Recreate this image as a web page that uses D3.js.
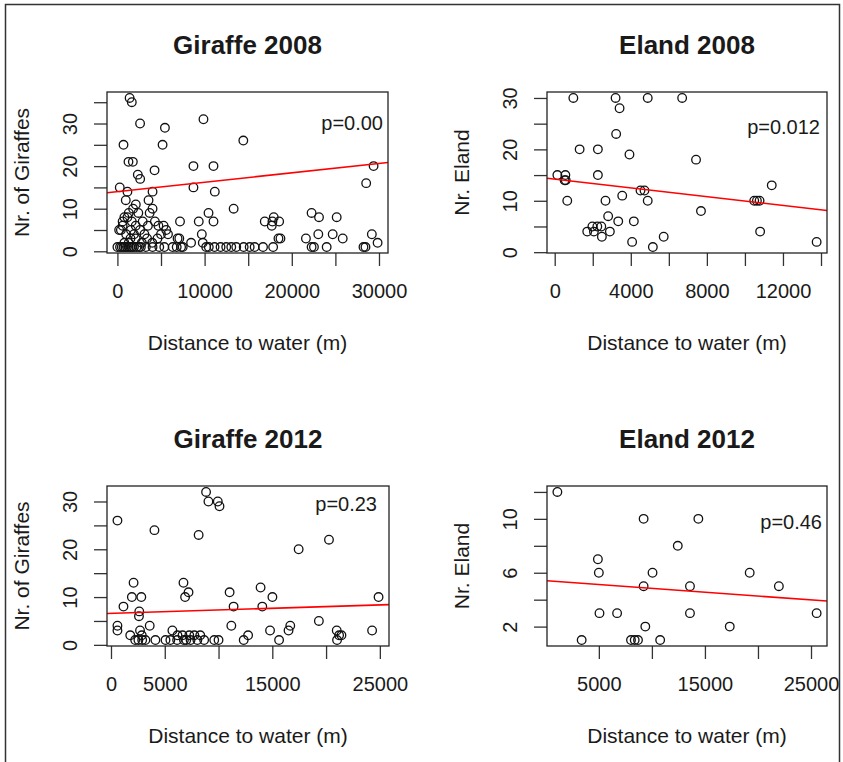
<!DOCTYPE html>
<html lang="en">
<head>
  <meta charset="utf-8">
  <title>distance to water</title>
  <script src="https://cdnjs.cloudflare.com/ajax/libs/d3/7.8.5/d3.min.js"></script>
  <style>
    body { margin: 0; background: #fff; }
    text { font-family: "Liberation Sans", Arial, sans-serif; fill: #1a1a1a; }
  </style>
</head>
<body>
<script>
// panel texts
var titles = ["Giraffe 2008", "Eland 2008", "Giraffe 2012", "Eland 2012"];
var yLabels = ["Nr. of Giraffes", "Nr. Eland", "Nr. of Giraffes", "Nr. Eland"];
var xLabel = "Distance to water (m)";
var pLabels = ["p=0.00", "p=0.012", "p=0.23", "p=0.46"];

// observations: [distance to water (m), count]
var giraffe2008 = [
  [1400,36],[1650,35],[2600,30],[5450,29],[9870,31],[700,25],[5180,25],[14440,26],
  [1270,21],[1770,21],[4260,19],[2340,18],[2610,17],[8720,20],[11020,20],[270,15],
  [8720,15],[29380,20],[28530,16],[1150,14],[4030,14],[11170,14],[960,12],[2110,11],
  [3570,12],[4030,10],[13330,10],[10450,9],[11020,7],[7180,7],[9330,7],[9680,4],
  [22270,9],[23120,8],[25150,8],[16900,7],[17930,8],[17780,7],[18550,7],[17700,6],
  [18470,3],[18700,3],[21620,3],[23040,4],[24690,4],[25840,3],[29180,4],[29840,2],
  [22270,1],[22540,1],[24000,1],[28220,1],[28450,1],[14480,1],[15170,1],[15740,1],
  [16700,1],[17860,1],[11140,1],[11830,1],[12480,1],[13060,1],[13630,1],[8450,2],
  [9790,2],[10180,1],[10480,1],[7100,3],[6900,3],[6340,1],[6800,1],[7300,1],[7490,1],
  [5380,1],[4800,1],[4030,1],[3260,1],[2690,1],
  [0,1],[300,1],[500,1],[700,1],[900,1],[1100,1],[1300,1],[1500,1],[1700,1],[1900,1],
  [2200,1],[2500,1],[400,5],[200,5],[600,7],[800,8],[1150,8],[1650,7],[1550,5],[2100,6],
  [2900,7],[3500,6],[4300,7],[4700,6],[5300,6],[5600,5],[5800,4],[3100,4],[2600,5],
  [2100,3],[1300,2],[800,2],[1500,3],[1900,4],[3400,3],[4000,2],[4600,3],[5000,4],
  [2800,2],[1000,4],[2400,9],[1800,10],[3700,9],[600,6],[1300,9]
];
var eland2008 = [
  [980,30],[3200,30],[4890,30],[6700,30],[3410,28],[3230,23],[1310,20],[2270,20],
  [3930,19],[7430,18],[140,15],[560,15],[520,14],[580,14],[660,10],[2270,15],
  [2670,10],[2810,7],[3340,6],[3550,11],[4510,12],[4720,12],[4890,10],[4160,6],
  [4070,2],[5160,1],[5730,3],[7690,8],[10490,10],[10630,10],[10770,10],[11410,13],
  [10800,4],[13770,2],[1710,4],[1980,5],[2240,5],[2450,5],[2480,3],[2900,4],[2060,4]
];
var giraffe2012 = [
  [8840,32],[9060,30],[9930,30],[10090,29],[600,26],[4040,24],[8150,23],[17450,20],
  [20270,22],[2100,13],[6740,13],[1940,10],[2820,10],[6890,10],[7210,11],[2630,7],
  [2600,6],[1160,8],[11030,11],[11400,8],[13910,12],[14070,8],[15010,10],[24880,10],
  [19330,5],[600,4],[600,3],[3600,4],[11190,4],[16670,4],[16510,3],[14790,3],
  [20990,3],[21210,2],[21430,2],[21020,1],[24280,3],[12750,2],[12340,1],[15630,1],
  [1790,2],[2250,1],[2700,3],[2860,2],[2550,1],[3200,1],[4130,1],[5070,1],[5710,3],
  [6180,2],[6650,2],[7280,2],[7750,2],[5520,1],[6150,1],[6780,1],[7400,1],[8030,1],
  [8660,1],[9600,1],[10000,1],[7000,1],[8300,2],[2900,1]
];
var eland2012 = [
  [1090,12],[9220,10],[14380,10],[12440,8],[4910,7],[5000,6],[10060,6],[19220,6],
  [9220,5],[13590,5],[21970,5],[5060,3],[6720,3],[13590,3],[25530,3],[9380,2],
  [17340,2],[3380,1],[8030,1],[8380,1],[8690,1],[10780,1]
];
var series = [giraffe2008, eland2008, giraffe2012, eland2012];

// fitted lines
var fitIntercept = [14.0, 14.2, 6.6, 5.41];
var fitSlope = [0.000221, -0.000426, 0.0000704, -0.0000571];

// tick positions, and the ticks that keep a label
var xTicks = [
  [0,5000,10000,15000,20000,25000,30000],
  [0,2000,4000,6000,8000,10000,12000,14000],
  [0,5000,10000,15000,20000,25000],
  [5000,10000,15000,20000,25000]
];
var xTickLabels = [
  [0,10000,20000,30000],
  [0,4000,8000,12000],
  [0,5000,15000,25000],
  [5000,15000,25000]
];
var yTicks = [
  [0,5,10,15,20,25,30,35],
  [0,5,10,15,20,25,30],
  [0,5,10,15,20,25,30],
  [2,4,6,8,10,12]
];
var yTickLabels = [
  [0,10,20,30],
  [0,10,20,30],
  [0,10,20,30],
  [2,6,10]
];

//plot boxes
var boxes = [
  {x: 107, y: 92, w: 281, h: 161},
  {x: 547, y: 92, w: 280, h: 161},
  {x: 107, y: 486, w: 282, h: 160},
  {x: 547, y: 486, w: 280, h: 160}
];
//p label offset from the top right corner of the box
var pOffset = [[5, 38], [7, 42], [12, 24.5], [5, 43]];

var svg = d3.select("body")
            .append("svg")
            .attr("width", 843)
            .attr("height", 762);

svg.append("rect")
   .attr("width", 843)
   .attr("height", 762)
   .attr("fill", "#fff");

//outer frame
svg.append("path")
   .attr("d", "M5.5,770V4.5H839.5V770")
   .attr("fill", "none")
   .attr("stroke", "#333")
   .attr("stroke-width", 1.5);

//R style range: data extent plus 4% on each side
function padded(ext) {
  var r = ext[1] - ext[0];
  return [ext[0] - 0.04 * r, ext[1] + 0.04 * r];
}

series.forEach(function(data, i) {
  var b = boxes[i];
  var g = svg.append("g").attr("transform", "translate(" + b.x + "," + b.y + ")");

  var x = d3.scaleLinear()
            .domain(padded(d3.extent(data, function(d) { return d[0]; })))
            .range([0, b.w]);
  var y = d3.scaleLinear()
            .domain(padded(d3.extent(data, function(d) { return d[1]; })))
            .range([b.h, 0]);

  g.append("clipPath")
   .attr("id", "clip" + i)
   .append("rect")
   .attr("width", b.w)
   .attr("height", b.h);

  //x axis
  var xa = g.append("g")
            .attr("transform", "translate(0," + b.h + ")")
            .call(d3.axisBottom(x)
                    .tickValues(xTicks[i])
                    .tickSize(13)
                    .tickSizeOuter(0)
                    .tickPadding(18)
                    .tickFormat(function(v) { return xTickLabels[i].indexOf(v) >= 0 ? v : ""; }));
  xa.select(".domain").remove();
  xa.selectAll("line").attr("stroke", "#333").attr("stroke-width", 1.3);
  xa.selectAll("text")
    .attr("font-size", 20)
    .attr("font-family", "Liberation Sans, Arial, sans-serif")
    .attr("fill", "#1a1a1a");

  //y axis, labels turned to run along the axis
  var ya = g.append("g")
            .call(d3.axisLeft(y)
                    .tickValues(yTicks[i])
                    .tickSize(13)
                    .tickSizeOuter(0)
                    .tickFormat(function(v) { return yTickLabels[i].indexOf(v) >= 0 ? v : ""; }));
  ya.select(".domain").remove();
  ya.selectAll("line").attr("stroke", "#333").attr("stroke-width", 1.3);
  ya.selectAll("text")
    .attr("x", null)
    .attr("dy", null)
    .attr("text-anchor", "middle")
    .attr("transform", "translate(-30,0) rotate(-90)")
    .attr("font-size", 20)
    .attr("font-family", "Liberation Sans, Arial, sans-serif")
    .attr("fill", "#1a1a1a");

  //points
  g.selectAll("circle")
   .data(data)
   .enter()
   .append("circle")
   .attr("cx", function(d) { return x(d[0]); })
   .attr("cy", function(d) { return y(d[1]); })
   .attr("r", 4.3)
   .attr("fill", "none")
   .attr("stroke", "#111")
   .attr("stroke-width", 1.3);

  //fitted line across the whole box
  var xd = x.domain();
  g.append("line")
   .attr("clip-path", "url(#clip" + i + ")")
   .attr("x1", x(xd[0]))
   .attr("x2", x(xd[1]))
   .attr("y1", y(fitIntercept[i] + fitSlope[i] * xd[0]))
   .attr("y2", y(fitIntercept[i] + fitSlope[i] * xd[1]))
   .attr("stroke", "#ff0000")
   .attr("stroke-width", 1.6);

  //box
  g.append("rect")
   .attr("width", b.w)
   .attr("height", b.h)
   .attr("fill", "none")
   .attr("stroke", "#222")
   .attr("stroke-width", 1.3);

  //title
  g.append("text")
   .attr("x", b.w / 2)
   .attr("y", -38)
   .attr("text-anchor", "middle")
   .attr("font-size", 26)
   .attr("font-weight", "bold")
   .text(titles[i]);

  //axis titles
  g.append("text")
   .attr("x", b.w / 2)
   .attr("y", b.h + 97)
   .attr("text-anchor", "middle")
   .attr("font-size", 21)
   .text(xLabel);

  g.append("text")
   .attr("transform", "translate(-78.5," + b.h / 2 + ") rotate(-90)")
   .attr("text-anchor", "middle")
   .attr("font-size", 21)
   .text(yLabels[i]);

  //p value
  g.append("text")
   .attr("x", b.w - pOffset[i][0])
   .attr("y", pOffset[i][1])
   .attr("text-anchor", "end")
   .attr("font-size", 20)
   .text(pLabels[i]);
});
</script>
</body>
</html>
